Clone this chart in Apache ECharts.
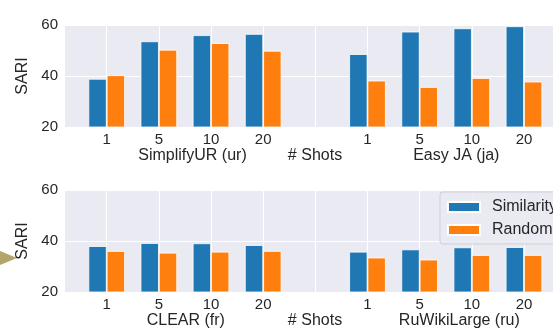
<!DOCTYPE html>
<html>
<head>
<meta charset="utf-8">
<script src="https://cdn.jsdelivr.net/npm/echarts@6/dist/echarts.min.js"></script>
<style>
html,body{margin:0;padding:0;background:#fff;}
#c{width:553px;height:335px;}
</style>
</head>
<body>
<div id="c"></div>
<script>
// ---- data ----
var shots = ['1', '5', '10', '20'];
var gapLabel = '';
var seriesNames = ['Similarity', 'Random'];
var yTicks = [20, 40, 60];

var simplifyUR_sim = [38.9, 53.6, 56.0, 56.5];
var simplifyUR_rand = [40.3, 50.3, 52.9, 49.9];
var easyJA_sim = [48.6, 57.4, 58.7, 59.5];
var easyJA_rand = [38.2, 35.7, 39.2, 37.8];

var clear_sim = [38.0, 39.2, 39.1, 38.4];
var clear_rand = [36.1, 35.4, 35.8, 36.1];
var ruWiki_sim = [35.8, 36.7, 37.5, 37.6];
var ruWiki_rand = [33.5, 32.7, 34.5, 34.5];

var datasetNames = ['SimplifyUR (ur)', 'Easy JA (ja)', 'CLEAR (fr)', 'RuWikiLarge (ru)'];
var middleLabel = '# Shots';
var yName = 'SARI';

// ---- build ----
var categories = shots.concat([gapLabel]).concat(shots);
function join(a, b) { return a.concat([null]).concat(b); }

var FONT = "'Liberation Sans', Arial, sans-serif";
var TXT = '#262626';
var BG = '#eaeaf2';
var BLUE = '#1f77b4';
var ORANGE = '#ff7f0e';

var panelTops = [25, 190];
var PH = 102;
var STEP = 52.16;
var FIRST = 106.7;
var LAST = FIRST + 8 * STEP;

var grids = [], xAxes = [], yAxes = [], series = [];
panelTops.forEach(function (top, p) {
  var base = grids.length;
  // 0: background grid with y labels & horizontal grid lines
  grids.push({ left: 65, right: -13, top: top, height: PH, show: true, backgroundColor: BG, borderWidth: 0 });
  // 1: category grid for vertical lines & tick labels (ticks at boundaries)
  grids.push({ left: FIRST, right: 553 - LAST, top: top, height: PH, show: false });
  // 2: bars grid (bands centred on ticks)
  grids.push({ left: FIRST - STEP / 2, right: 553 - LAST - STEP / 2, top: top, height: PH, show: false });

  xAxes.push({ gridIndex: base, type: 'value', min: 0, max: 1, show: false });
  yAxes.push({
    gridIndex: base, type: 'value', min: yTicks[0], max: yTicks[yTicks.length - 1], interval: 20,
    axisLine: { show: false }, axisTick: { show: false },
    axisLabel: { fontSize: 15, color: TXT, fontFamily: FONT, margin: 7 },
    splitLine: { show: true, lineStyle: { color: '#ffffff', width: 1 } },
    name: yName, nameLocation: 'middle', nameGap: 34, nameRotate: 90,
    nameTextStyle: { fontSize: 16, color: TXT, fontFamily: FONT }
  });

  xAxes.push({
    gridIndex: base + 1, type: 'category', data: categories, boundaryGap: false,
    axisLine: { show: false }, axisTick: { show: false },
    axisLabel: { fontSize: 15, color: TXT, fontFamily: FONT, margin: 5, interval: 0 },
    splitLine: { show: true, interval: 0, lineStyle: { color: '#ffffff', width: 1 } }
  });
  yAxes.push({ gridIndex: base + 1, type: 'value', min: yTicks[0], max: yTicks[yTicks.length - 1], show: false, splitLine: { show: false } });

  xAxes.push({ gridIndex: base + 2, type: 'category', data: categories, boundaryGap: true, show: false });
  yAxes.push({ gridIndex: base + 2, type: 'value', min: yTicks[0], max: yTicks[yTicks.length - 1], show: false, splitLine: { show: false } });

  var sims = p === 0 ? join(simplifyUR_sim, easyJA_sim) : join(clear_sim, ruWiki_sim);
  var rands = p === 0 ? join(simplifyUR_rand, easyJA_rand) : join(clear_rand, ruWiki_rand);
  [sims, rands].forEach(function (d, i) {
    series.push({
      type: 'bar', name: seriesNames[i], xAxisIndex: base + 2, yAxisIndex: base + 2,
      data: d, barWidth: 18.3, barGap: '0%', clip: true, z: 3,
      itemStyle: { color: i === 0 ? BLUE : ORANGE, borderColor: '#ffffff', borderWidth: 0.8 },
      silent: true, animation: false
    });
  });
});

var labelPos = [
  { x: 192.5, y: 155.5, t: datasetNames[0] },
  { x: 315, y: 155.5, t: middleLabel },
  { x: 456.3, y: 155.5, t: datasetNames[1] },
  { x: 185.8, y: 320.5, t: datasetNames[2] },
  { x: 315, y: 320.5, t: middleLabel },
  { x: 459.3, y: 320.5, t: datasetNames[3] }
];
var graphics = labelPos.map(function (l) {
  return { type: 'text', x: l.x, y: l.y, style: { text: l.t, fontSize: 16, fontFamily: FONT, fill: TXT, align: 'center', verticalAlign: 'middle' } };
});
graphics.push({ type: 'polygon', shape: { points: [[0, 251], [17, 258], [0, 265]] }, style: { fill: '#b3a46c' } });

var chart = echarts.init(document.getElementById('c'), null, { renderer: 'canvas' });
chart.setOption({
  animation: false,
  backgroundColor: '#ffffff',
  grid: grids,
  xAxis: xAxes,
  yAxis: yAxes,
  series: series,
  graphic: graphics,
  legend: {
    data: seriesNames, orient: 'vertical', left: 440, top: 192,
    itemWidth: 32, itemHeight: 10, itemGap: 7, padding: [7, 30, 6, 7],
    backgroundColor: 'rgba(234,234,242,0.85)', borderColor: '#cfcfd8', borderWidth: 1, borderRadius: 3,
    textStyle: { fontSize: 16, color: TXT, fontFamily: FONT, padding: [0, 0, 0, 7] },
    icon: 'rect', selectedMode: false
  }
});
</script>
</body>
</html>
